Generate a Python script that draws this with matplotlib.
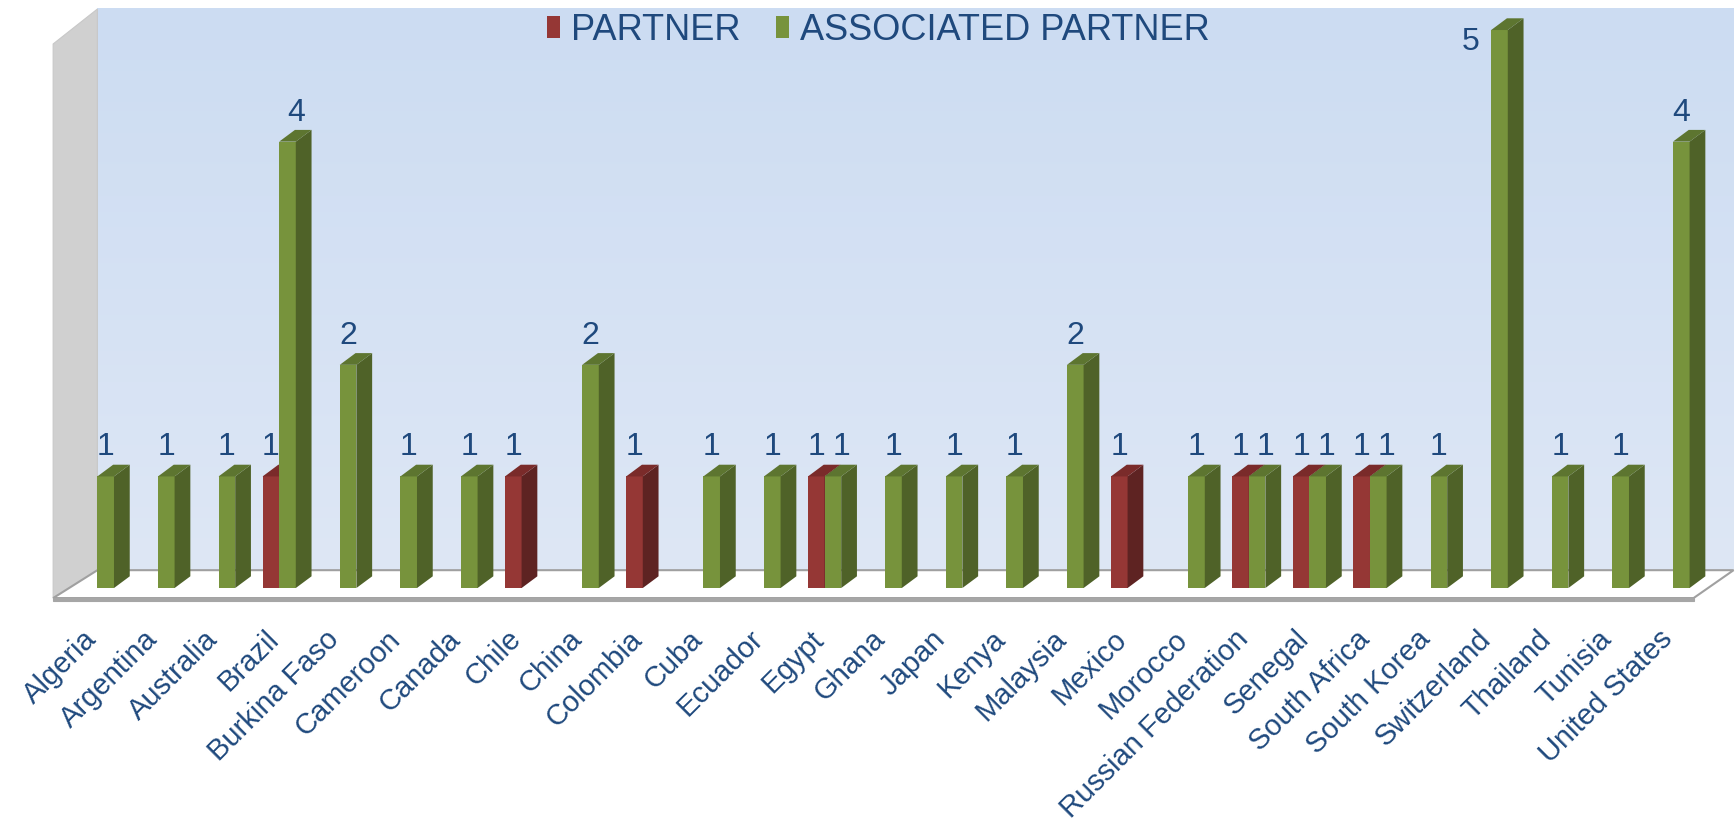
import numpy as np
import matplotlib
matplotlib.use("Agg")
import matplotlib.pyplot as plt
from matplotlib.patches import Polygon, Patch

plt.rcParams['font.family'] = ['Liberation Sans', 'DejaVu Sans']

countries = ["Algeria", "Argentina", "Australia", "Brazil", "Burkina Faso", "Cameroon",
             "Canada", "Chile", "China", "Colombia", "Cuba", "Ecuador", "Egypt", "Ghana",
             "Japan", "Kenya", "Malaysia", "Mexico", "Morocco", "Russian Federation",
             "Senegal", "South Africa", "South Korea", "Switzerland", "Thailand",
             "Tunisia", "United States"]
partner = [0, 0, 0, 1, 0, 0, 0, 1, 0, 1, 0, 0, 1, 0, 0, 0, 0, 1, 0, 1, 1, 1, 0, 0, 0, 0, 0]
associated = [1, 1, 1, 4, 2, 1, 1, 0, 2, 0, 1, 1, 1, 1, 1, 1, 2, 0, 1, 1, 1, 1, 1, 5, 1, 1, 4]
series_names = ["PARTNER", "ASSOCIATED PARTNER"]

TXT = '#1F497D'
RED = ('#953735', '#5E2322', '#7A2B2A')
GRN = ('#77933C', '#4F6228', '#5D7530')

n = len(countries)
w = 0.274      # bar width (category units)
dx, dy = 0.26, 0.105   # depth offsets
YTOP = 5.269

fig = plt.figure(figsize=(17.36, 8.33), dpi=100)
ax = fig.add_axes([0, 0, 1, 1])
ax.axis('off')

# back wall gradient
grad = np.linspace(0, 1, 256).reshape(-1, 1)
c_top = np.array([204, 220, 242]) / 255
c_bot = np.array([222, 231, 245]) / 255
img = c_top[None, None, :] * (1 - grad[:, :, None]) + c_bot[None, None, :] * grad[:, :, None]
xr = n + 0.0
ax.imshow(img, extent=[0, xr, 0.16, 5.19], aspect='auto', zorder=0, origin='upper')

# left wall
ax.add_patch(Polygon([(-0.73, -0.09), (-0.73, 4.875), (0, 5.188), (0, 0.16)],
                     closed=True, facecolor='#D0D0D0', edgecolor='#C8C8C8', lw=0.8, zorder=1))
# floor
ax.add_patch(Polygon([(-0.73, -0.09), (0, 0.16), (xr, 0.16), (xr - 0.66, -0.09)],
                     closed=True, facecolor='white', edgecolor='#A0A0A0', lw=1.5, zorder=1))
ax.add_patch(Polygon([(-0.73, -0.09), (xr - 0.66, -0.09), (xr - 0.66, -0.115), (-0.73, -0.115)],
                     closed=True, facecolor='#A6A6A6', edgecolor='#A6A6A6', lw=0.8, zorder=1))


def bar3d(x0, h, cols, z):
    face, side, top = cols
    ax.bar(x0, h, width=w, align='edge', color=face, zorder=z, linewidth=0)
    ax.add_patch(Polygon([(x0 + w, 0), (x0 + w + dx, dy), (x0 + w + dx, h + dy), (x0 + w, h)],
                         closed=True, facecolor=side, edgecolor='none', zorder=z))
    ax.add_patch(Polygon([(x0, h), (x0 + dx, h + dy), (x0 + w + dx, h + dy), (x0 + w, h)],
                         closed=True, facecolor=top, edgecolor='none', zorder=z))


def label(x0, h, z, xoff=0.0):
    if h + 0.26 + 0.14 > YTOP:
        ax.text(x0 - 0.2, h - 0.11, str(h), ha='right', va='center', fontsize=23,
                color=TXT, zorder=z)
    else:
        ax.text(x0 + w / 2 + xoff, h + 0.26, str(h), ha='center', va='center', fontsize=23,
                color=TXT, zorder=z)


z = 2
for i in range(n):
    if partner[i] > 0:
        bar3d(i - w, partner[i], RED, z)
        z += 1
    if associated[i] > 0:
        bar3d(i, associated[i], GRN, z)
        z += 1
for i in range(n):
    if partner[i] > 0:
        label(i - w, partner[i], 200)
    if associated[i] > 0:
        label(i, associated[i], 200, xoff=0.14 if partner[i] > 0 else 0.0)

for i, name in enumerate(countries):
    ax.text(i - 0.08, -0.42, name, rotation=45, rotation_mode='anchor', ha='right',
            va='center', fontsize=21, color=TXT, zorder=200)

handles = [Patch(facecolor=RED[0]), Patch(facecolor=GRN[0])]
ax.legend(handles, series_names, loc='upper center', bbox_to_anchor=(0.506, 1.006),
          ncol=2, frameon=False, fontsize=26, labelcolor=TXT, handlelength=0.35,
          handleheight=0.55, handletextpad=0.3, columnspacing=1.0, borderaxespad=0.1)

ax.set_xlim(-1.607, 27.04)
ax.set_ylim(-2.195, YTOP)
fig.savefig('out.png', dpi=100)
